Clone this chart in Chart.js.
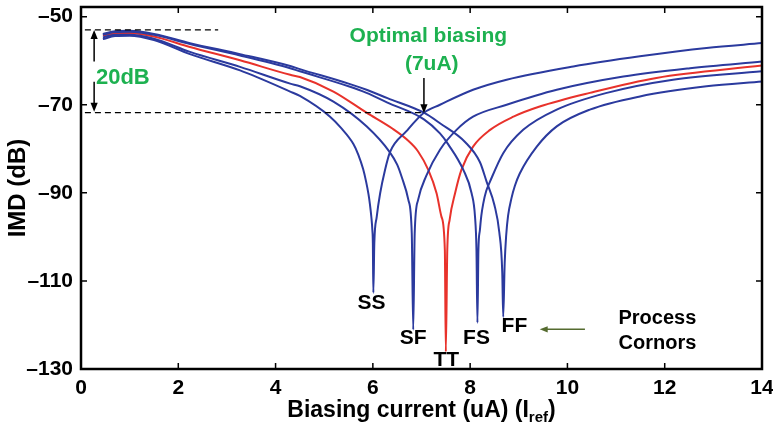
<!DOCTYPE html>
<html>
<head>
<meta charset="utf-8">
<script src="https://cdn.jsdelivr.net/npm/chart.js@4.4.1/dist/chart.umd.min.js"></script>
<style>
  html, body { margin: 0; padding: 0; background: #fff; }
  #wrap { width: 773px; height: 431px; }
</style>
</head>
<body>
<div id="wrap"><canvas id="grafico" width="773" height="431"></canvas></div>
<script>
// eixos
const xTicks = [0, 2, 4, 6, 8, 10, 12, 14];
const yTicks = [-130, -110, -90, -70, -50];
const corners = ["SS", "SF", "TT", "FS", "FF"];

// curvas (x em uA, y em dB)
const ssX = [0.45, 0.7, 1.0, 1.5, 2.24, 3.27, 4.3, 4.5, 5.12, 5.35, 5.6, 5.7, 5.8, 5.86, 5.91, 5.94, 5.97, 5.99, 6.0, 6.01, 6.03, 6.08, 6.15, 6.25, 6.35, 6.69, 7.05, 7.38, 8.06, 8.75, 10.12, 11.49, 12.86, 14.0];
const ssY = [-55.1, -54.4, -54.3, -55.3, -58.5, -62.2, -67.0, -68.0, -72.7, -75.3, -78.9, -81.3, -84.6, -87.4, -90.3, -92.6, -95.6, -98.5, -101.4, -112.7, -101.4, -95.4, -90.1, -84.8, -80.8, -76.0, -71.8, -70.0, -66.6, -64.3, -61.3, -59.0, -57.1, -56.0];

const sfX = [0.45, 0.7, 1.0, 1.5, 2.24, 3.27, 4.3, 4.5, 5.19, 5.87, 6.35, 6.5, 6.59, 6.73, 6.8, 6.83, 6.86, 6.93, 7.1, 7.38, 7.72, 8.06, 8.75, 9.78, 11.15, 12.52, 14.0];
const sfY = [-54.7, -54.1, -54.1, -55.0, -58.0, -61.4, -65.2, -65.8, -69.3, -74.9, -80.8, -83.6, -86.3, -91.6, -99.2, -121.1, -99.2, -91.6, -86.1, -80.2, -75.7, -72.7, -70.0, -66.6, -63.6, -61.7, -60.2];

const ttX = [0.45, 0.7, 1.0, 1.5, 2.24, 3.27, 4.3, 4.5, 5.19, 5.87, 6.4, 6.7, 6.93, 7.14, 7.31, 7.41, 7.48, 7.5, 7.53, 7.58, 7.69, 7.82, 8.06, 8.41, 8.89, 9.43, 10.46, 11.83, 14.0];
const ttY = [-54.3, -53.8, -53.7, -54.5, -56.9, -59.9, -63.2, -63.7, -67.0, -71.8, -75.4, -77.9, -80.6, -84.8, -90.1, -95.4, -103.0, -126.1, -103.0, -96.0, -90.1, -84.8, -79.5, -75.7, -72.7, -70.4, -67.3, -63.9, -61.1];

const fsX = [0.45, 0.7, 1.0, 1.5, 2.24, 3.27, 4.3, 4.5, 5.5, 5.87, 6.3, 7.05, 7.38, 7.55, 7.86, 8.03, 8.1, 8.13, 8.15, 8.17, 8.2, 8.23, 8.27, 8.33, 8.41, 8.68, 9.09, 9.78, 10.81, 12.17, 14.0];
const fsY = [-54.1, -53.5, -53.4, -54.1, -56.2, -58.8, -61.7, -62.4, -65.8, -67.3, -69.5, -73.3, -76.5, -79.0, -84.8, -90.1, -95.4, -103.0, -119.5, -103.0, -98.5, -95.2, -92.4, -89.6, -87.4, -81.0, -75.7, -71.1, -67.3, -64.3, -62.4];

const ffX = [0.45, 0.7, 1.0, 1.5, 2.24, 3.27, 4.3, 4.5, 5.5, 5.87, 6.3, 7.05, 7.38, 7.9, 8.2, 8.34, 8.5, 8.6, 8.66, 8.68, 8.71, 8.74, 8.78, 8.85, 8.92, 9.02, 9.37, 9.78, 10.46, 11.49, 12.86, 14.0];
const ffY = [-53.9, -53.3, -53.2, -53.9, -56.0, -58.5, -61.2, -61.9, -65.2, -66.6, -68.5, -71.8, -74.2, -78.5, -83.0, -87.5, -92.8, -99.0, -108.0, -118.2, -106.0, -99.8, -95.2, -91.2, -88.4, -85.6, -79.5, -74.9, -71.1, -68.1, -65.8, -64.7];

const FAM = '"Liberation Sans", Arial, sans-serif';
const AZUL = "#2b3a9e";
const VERMELHO = "#e8322b";
const VERDE = "#1db150";

function pontos(xs, ys) {
  return xs.map((x, i) => ({ x, y: ys[i] }));
}

function serie(nome, xs, ys, cor) {
  return {
    label: nome,
    data: pontos(xs, ys),
    borderColor: cor,
    borderWidth: 2,
    pointRadius: 0,
    fill: false,
    cubicInterpolationMode: "monotone"
  };
}

function seta(ctx, x1, y1, x2, y2, cor, cab) {
  const ang = Math.atan2(y2 - y1, x2 - x1);
  ctx.strokeStyle = cor;
  ctx.fillStyle = cor;
  ctx.lineWidth = 1.5;
  ctx.beginPath();
  ctx.moveTo(x1, y1);
  ctx.lineTo(x2 - Math.cos(ang) * cab * 0.8, y2 - Math.sin(ang) * cab * 0.8);
  ctx.stroke();
  ctx.beginPath();
  ctx.moveTo(x2, y2);
  ctx.lineTo(x2 - cab * Math.cos(ang) + (cab * 0.4) * Math.sin(ang), y2 - cab * Math.sin(ang) - (cab * 0.4) * Math.cos(ang));
  ctx.lineTo(x2 - cab * Math.cos(ang) - (cab * 0.4) * Math.sin(ang), y2 - cab * Math.sin(ang) + (cab * 0.4) * Math.cos(ang));
  ctx.closePath();
  ctx.fill();
}

const decoracao = {
  id: "decoracao",
  afterDatasetsDraw(chart) {
    const ctx = chart.ctx;
    const xs = chart.scales.x;
    const ys = chart.scales.y;
    const a = chart.chartArea;
    const px = v => xs.getPixelForValue(v);
    const py = v => ys.getPixelForValue(v);
    ctx.save();

    // moldura e marcas para dentro
    ctx.strokeStyle = "#000";
    ctx.lineWidth = 2.5;
    ctx.strokeRect(a.left, a.top, a.right - a.left, a.bottom - a.top);
    ctx.lineWidth = 1.5;
    ctx.beginPath();
    xTicks.forEach(v => {
      const x = px(v);
      ctx.moveTo(x, a.bottom); ctx.lineTo(x, a.bottom - 6);
      ctx.moveTo(x, a.top); ctx.lineTo(x, a.top + 6);
    });
    yTicks.forEach(v => {
      const y = py(v);
      ctx.moveTo(a.left, y); ctx.lineTo(a.left + 6, y);
      ctx.moveTo(a.right, y); ctx.lineTo(a.right - 6, y);
    });
    ctx.stroke();

    // linhas tracejadas (20 dB)
    ctx.setLineDash([6, 4]);
    ctx.lineWidth = 1.2;
    ctx.beginPath();
    ctx.moveTo(px(0.08), py(-53.0)); ctx.lineTo(px(2.82), py(-53.0));
    ctx.moveTo(px(0.08), py(-71.8)); ctx.lineTo(px(7.03), py(-71.8));
    ctx.stroke();
    ctx.setLineDash([]);

    seta(ctx, px(0.27), py(-60.2), px(0.27), py(-53.0), "#000", 9);
    seta(ctx, px(0.27), py(-64.8), px(0.27), py(-71.6), "#000", 9);
    seta(ctx, px(7.05), py(-63.9), px(7.05), py(-71.9), "#000", 9);
    seta(ctx, px(10.36), py(-121.0), px(9.43), py(-121.0), "#556b2f", 8);

    ctx.textAlign = "center";
    ctx.textBaseline = "middle";
    ctx.fillStyle = VERDE;
    ctx.font = "bold 22px " + FAM;
    ctx.fillText("20dB", px(0.86), py(-63.9));
    ctx.font = "bold 21px " + FAM;
    ctx.fillText("Optimal biasing", px(7.14), py(-54.5));
    ctx.fillText("(7uA)", px(7.21), py(-60.9));

    ctx.fillStyle = "#000";
    ctx.font = "bold 21px " + FAM;
    const rotulos = { SS: [5.97, -115.1], SF: [6.83, -123.1], TT: [7.51, -128.0], FS: [8.13, -123.1], FF: [8.91, -120.3] };
    corners.forEach(c => ctx.fillText(c, px(rotulos[c][0]), py(rotulos[c][1])));
    ctx.font = "bold 20px " + FAM;
    ctx.fillText("Process", px(11.85), py(-118.5));
    ctx.fillText("Cornors", px(11.85), py(-124.3));

    // titulo do eixo x com subscrito
    const principal = "Biasing current (uA) (I";
    const sub = "ref";
    const fim = ")";
    ctx.textAlign = "left";
    ctx.textBaseline = "alphabetic";
    ctx.font = "bold 23px " + FAM;
    const w1 = ctx.measureText(principal).width;
    const w3 = ctx.measureText(fim).width;
    ctx.font = "bold 15px " + FAM;
    const w2 = ctx.measureText(sub).width;
    let x0 = (a.left + a.right) / 2 - (w1 + w2 + w3) / 2;
    const base = 417;
    ctx.font = "bold 23px " + FAM;
    ctx.fillText(principal, x0, base);
    ctx.font = "bold 15px " + FAM;
    ctx.fillText(sub, x0 + w1, base + 5);
    ctx.font = "bold 23px " + FAM;
    ctx.fillText(fim, x0 + w1 + w2, base);

    ctx.restore();
  }
};

const ctx = document.getElementById("grafico").getContext("2d");
new Chart(ctx, {
  type: "line",
  data: {
    datasets: [
      serie("SS", ssX, ssY, AZUL),
      serie("SF", sfX, sfY, AZUL),
      serie("FS", fsX, fsY, AZUL),
      serie("FF", ffX, ffY, AZUL),
      serie("TT", ttX, ttY, VERMELHO)
    ]
  },
  options: {
    responsive: false,
    animation: false,
    devicePixelRatio: 1,
    layout: { padding: { top: 7, right: 11, left: 0, bottom: 0 } },
    plugins: { legend: { display: false }, tooltip: { enabled: false } },
    scales: {
      x: {
        type: "linear",
        min: 0,
        max: 14,
        afterBuildTicks: s => { s.ticks = xTicks.map(v => ({ value: v })); },
        afterFit: s => { s.height = 62; s.paddingLeft = 0; s.paddingRight = 0; },
        grid: { display: false, drawTicks: false },
        border: { display: false },
        ticks: { color: "#000", padding: 7, font: { family: FAM, size: 21, weight: "bold" } }
      },
      y: {
        type: "linear",
        min: -130,
        max: -47.8,
        afterBuildTicks: s => { s.ticks = yTicks.map(v => ({ value: v })); },
        afterFit: s => { s.width = 81; s.paddingTop = 0; s.paddingBottom = 0; },
        grid: { display: false, drawTicks: false },
        border: { display: false },
        ticks: {
          color: "#000",
          padding: 8,
          font: { family: FAM, size: 21, weight: "bold" },
          callback: v => (v < 0 ? "\u2013" + Math.abs(v) : String(v))
        },
        title: { display: true, text: "IMD (dB)", color: "#000", padding: { top: 4 }, font: { family: FAM, size: 24, weight: "bold" } }
      }
    }
  },
  plugins: [decoracao]
});
</script>
</body>
</html>
